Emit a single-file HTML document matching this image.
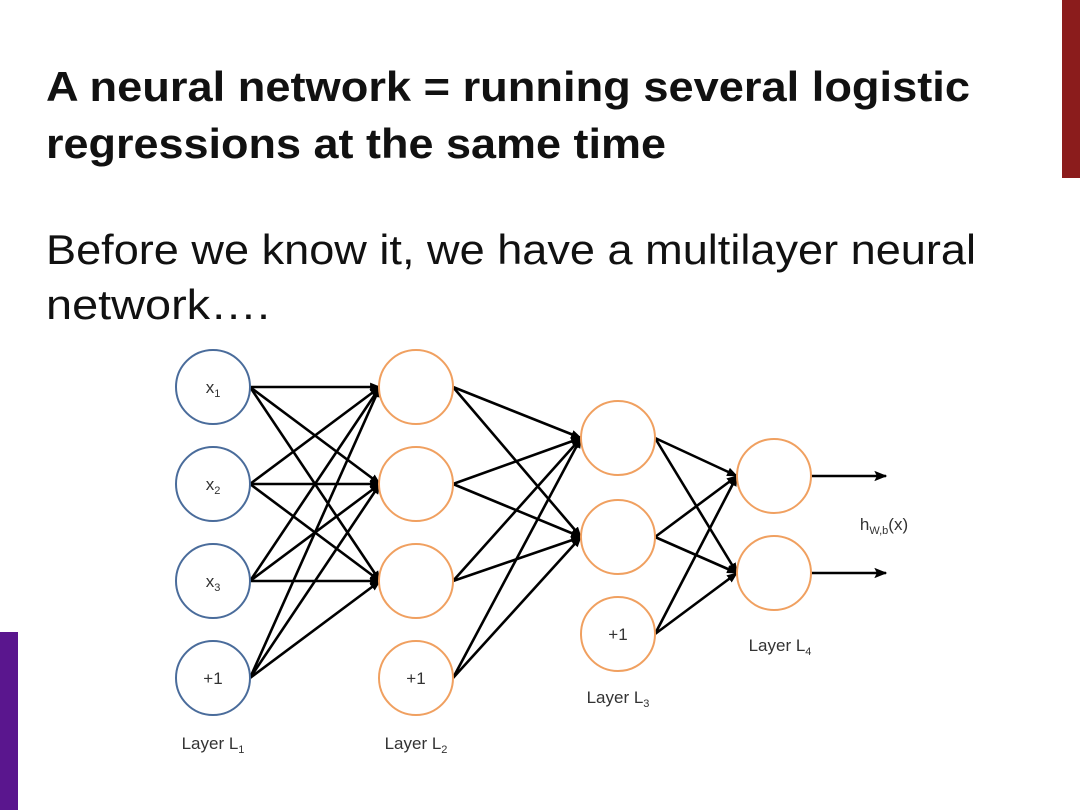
<!DOCTYPE html>
<html><head><meta charset="utf-8"><style>
html,body{margin:0;padding:0;background:#fff;width:1080px;height:810px;overflow:hidden}
svg{display:block}
</style></head><body>
<svg width="1080" height="810" viewBox="0 0 1080 810" xmlns="http://www.w3.org/2000/svg">
<rect x="0" y="0" width="1080" height="810" fill="#fff"/>
<rect x="1062" y="0" width="18" height="178" fill="#8b1c1c"/>
<rect x="0" y="632" width="18" height="178" fill="#5a168e"/>
<g font-family="Liberation Sans, sans-serif" fill="#111">
<text x="46" y="101" font-size="42" font-weight="bold" textLength="924" lengthAdjust="spacingAndGlyphs">A neural network = running several logistic</text>
<text x="46" y="158" font-size="42" font-weight="bold" textLength="620" lengthAdjust="spacingAndGlyphs">regressions at the same time</text>
<text x="46" y="264" font-size="42" textLength="930" lengthAdjust="spacingAndGlyphs">Before we know it, we have a multilayer neural</text>
<text x="46" y="319" font-size="42" textLength="224" lengthAdjust="spacingAndGlyphs">network….</text>
</g>
<defs>
<marker id="a" viewBox="0 0 10 10" refX="9" refY="5" markerWidth="11" markerHeight="11" orient="auto" markerUnits="userSpaceOnUse"><path d="M0,1 L10,5 L0,9 z" fill="#000"/></marker>
<marker id="b" viewBox="0 0 10 10" refX="9" refY="5" markerWidth="13" markerHeight="13" orient="auto" markerUnits="userSpaceOnUse"><path d="M0,1 L10,5 L0,9 L2,5 z" fill="#000"/></marker>
</defs>
<g stroke="#000" stroke-width="2.6" marker-end="url(#a)">
<line x1="250" y1="387" x2="380" y2="387"/><line x1="250" y1="387" x2="380" y2="484"/><line x1="250" y1="387" x2="380" y2="581"/>
<line x1="250" y1="484" x2="380" y2="387"/><line x1="250" y1="484" x2="380" y2="484"/><line x1="250" y1="484" x2="380" y2="581"/>
<line x1="250" y1="581" x2="380" y2="387"/><line x1="250" y1="581" x2="380" y2="484"/><line x1="250" y1="581" x2="380" y2="581"/>
<line x1="250" y1="678" x2="380" y2="387"/><line x1="250" y1="678" x2="380" y2="484"/><line x1="250" y1="678" x2="380" y2="581"/>
<line x1="453" y1="387" x2="581" y2="438"/><line x1="453" y1="387" x2="581" y2="537"/>
<line x1="453" y1="484" x2="581" y2="438"/><line x1="453" y1="484" x2="581" y2="537"/>
<line x1="453" y1="581" x2="581" y2="438"/><line x1="453" y1="581" x2="581" y2="537"/>
<line x1="453" y1="678" x2="581" y2="438"/><line x1="453" y1="678" x2="581" y2="537"/>
<line x1="655" y1="438" x2="737" y2="476"/><line x1="655" y1="438" x2="737" y2="573"/>
<line x1="655" y1="537" x2="737" y2="476"/><line x1="655" y1="537" x2="737" y2="573"/>
<line x1="655" y1="634" x2="737" y2="476"/><line x1="655" y1="634" x2="737" y2="573"/>
</g>
<g stroke="#000" stroke-width="2.6" marker-end="url(#b)">
<line x1="811" y1="476" x2="886" y2="476"/><line x1="811" y1="573" x2="886" y2="573"/>
</g>
<g fill="#fff" stroke-width="2">
<g stroke="#4a6c9b">
<circle cx="213" cy="387" r="37"/><circle cx="213" cy="484" r="37"/><circle cx="213" cy="581" r="37"/><circle cx="213" cy="678" r="37"/>
</g>
<g stroke="#f0a060">
<circle cx="416" cy="387" r="37"/><circle cx="416" cy="484" r="37"/><circle cx="416" cy="581" r="37"/><circle cx="416" cy="678" r="37"/>
<circle cx="618" cy="438" r="37"/><circle cx="618" cy="537" r="37"/><circle cx="618" cy="634" r="37"/>
<circle cx="774" cy="476" r="37"/><circle cx="774" cy="573" r="37"/>
</g>
</g>
<g font-family="Liberation Sans, sans-serif" font-size="17" fill="#333" text-anchor="middle">
<text x="213" y="393">x<tspan font-size="11" dy="4">1</tspan></text>
<text x="213" y="490">x<tspan font-size="11" dy="4">2</tspan></text>
<text x="213" y="587">x<tspan font-size="11" dy="4">3</tspan></text>
<text x="213" y="684">+1</text>
<text x="416" y="684">+1</text>
<text x="618" y="640">+1</text>
<text x="213" y="749">Layer L<tspan font-size="11" dy="4">1</tspan></text>
<text x="416" y="749">Layer L<tspan font-size="11" dy="4">2</tspan></text>
<text x="618" y="703">Layer L<tspan font-size="11" dy="4">3</tspan></text>
<text x="780" y="651">Layer L<tspan font-size="11" dy="4">4</tspan></text>
<text x="884" y="530">h<tspan font-size="11" dy="4">W,b</tspan><tspan dy="-4">(x)</tspan></text>
</g>
</svg>
</body></html>
